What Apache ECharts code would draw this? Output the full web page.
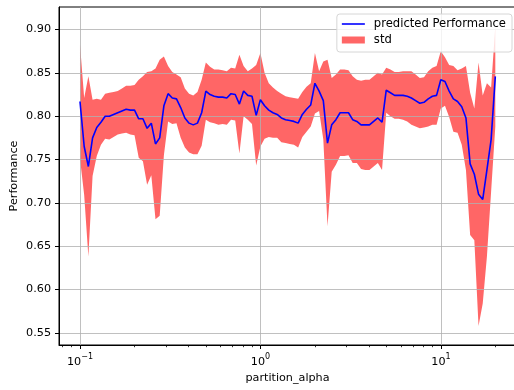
<!DOCTYPE html>
<html>
<head>
<meta charset="utf-8">
<script src="https://cdn.jsdelivr.net/npm/echarts@6/dist/echarts.min.js"></script>
<style>
  html, body { margin: 0; padding: 0; background: #ffffff; }
  #chart { width: 514px; height: 390px; }
</style>
</head>
<body>
<div id="chart"></div>
<script>
// partition_alpha sampling grid: 100 log-spaced values from 0.1 to 20
const alphaCount = 100;
const alphaStart = 0.1;
const alphaEnd = 20;
const partitionAlpha = Array.from({ length: alphaCount }, (_, i) =>
  alphaStart * Math.pow(alphaEnd / alphaStart, i / (alphaCount - 1)));

// mean predicted performance at each alpha
const predicted = [
  0.817, 0.765, 0.742, 0.775, 0.787, 0.793, 0.800, 0.800, 0.802, 0.804,
  0.806, 0.808, 0.807, 0.807, 0.797, 0.797, 0.786, 0.792, 0.768, 0.775,
  0.812, 0.826, 0.821, 0.820, 0.810, 0.798, 0.792, 0.790, 0.792, 0.804,
  0.829, 0.825, 0.823, 0.822, 0.822, 0.821, 0.826, 0.825, 0.814, 0.829,
  0.824, 0.823, 0.801, 0.819, 0.812, 0.807, 0.804, 0.802, 0.798, 0.796,
  0.795, 0.794, 0.792, 0.802, 0.808, 0.813, 0.838, 0.829, 0.818, 0.769,
  0.790, 0.796, 0.804, 0.804, 0.804, 0.796, 0.794, 0.790, 0.790, 0.790,
  0.794, 0.798, 0.793, 0.830, 0.827, 0.824, 0.824, 0.824, 0.823, 0.821,
  0.818, 0.815, 0.816, 0.820, 0.823, 0.824, 0.842, 0.840, 0.829, 0.820,
  0.817, 0.811, 0.798, 0.745, 0.733, 0.710, 0.704, 0.738, 0.773, 0.846
];

// standard deviation of the prediction at each alpha
const stdDev = [
  0.066, 0.056, 0.104, 0.044, 0.033, 0.026, 0.026, 0.027, 0.026, 0.025,
  0.026, 0.027, 0.028, 0.029, 0.045, 0.049, 0.065, 0.060, 0.087, 0.090,
  0.057, 0.032, 0.030, 0.028, 0.035, 0.034, 0.034, 0.034, 0.036, 0.038,
  0.033, 0.032, 0.031, 0.032, 0.031, 0.031, 0.030, 0.030, 0.057, 0.029,
  0.028, 0.032, 0.058, 0.054, 0.038, 0.031, 0.029, 0.027, 0.028, 0.027,
  0.027, 0.027, 0.028, 0.026, 0.026, 0.025, 0.035, 0.023, 0.045, 0.096,
  0.054, 0.052, 0.050, 0.050, 0.049, 0.050, 0.048, 0.051, 0.052, 0.052,
  0.052, 0.052, 0.055, 0.026, 0.027, 0.027, 0.027, 0.028, 0.029, 0.031,
  0.030, 0.029, 0.029, 0.032, 0.033, 0.034, 0.033, 0.028, 0.030, 0.038,
  0.036, 0.044, 0.060, 0.082, 0.076, 0.152, 0.120, 0.100, 0.060, 0.058
];

const yTicks = [0.55, 0.60, 0.65, 0.70, 0.75, 0.80, 0.85, 0.90];
const xMajorTicks = [0.1, 1, 10];
const xMinorTicks = [0.08, 0.09, 0.2, 0.3, 0.4, 0.5, 0.6, 0.7, 0.8, 0.9,
                     2, 3, 4, 5, 6, 7, 8, 9, 20];

const FONT = 'DejaVu Sans';
const FS = 11.2;
const X_MIN = 0.07651, X_MAX = 26.04;
const Y_MIN = 0.536, Y_MAX = 0.926;

// [alpha, mean - std, mean + std]
const bandRows = partitionAlpha.map((a, i) => [a, predicted[i] - stdDev[i], predicted[i] + stdDev[i]]);
const meanPts = partitionAlpha.map((a, i) => [a, predicted[i]]);

// Fills the whole mean ± std region as one polygon
function renderBand(params, api) {
  if (params.dataIndex !== 0) return null;
  const upper = bandRows.map(r => api.coord([r[0], r[2]]));
  const lower = bandRows.map(r => api.coord([r[0], r[1]])).reverse();
  return {
    type: 'polygon',
    shape: { points: upper.concat(lower) },
    style: { fill: '#ff6666', stroke: null }
  };
}

const chart = echarts.init(document.getElementById('chart'), null, { renderer: 'canvas' });

chart.setOption({
  animation: false,
  backgroundColor: '#ffffff',
  textStyle: { fontFamily: FONT },
  grid: {
    left: 59, top: 7, width: 457, height: 338,
    outerBoundsMode: 'none',
    containLabel: false,
    show: true, borderColor: '#000000', borderWidth: 1, backgroundColor: 'transparent'
  },
  legend: {
    data: [
      { name: 'predicted Performance', icon: 'path://M0,0H23V1.6H0Z', itemStyle: { color: '#0000ff' } },
      { name: 'std', icon: 'rect', itemStyle: { color: '#ff6666' } }
    ],
    orient: 'vertical',
    right: 2,
    top: 14,
    itemWidth: 23,
    itemHeight: 7,
    itemGap: 4,
    padding: [4, 6, 6, 5],
    backgroundColor: 'rgba(255,255,255,0.8)',
    borderColor: '#d6d6d6',
    borderWidth: 1,
    borderRadius: 3,
    z: 10,
    textStyle: { fontFamily: FONT, fontSize: 11.6, color: '#000000', padding: [0, 0, 0, 4] }
  },
  xAxis: [
    {
      type: 'log', logBase: 10, min: X_MIN, max: X_MAX,
      position: 'bottom',
      name: 'partition_alpha', nameLocation: 'middle', nameGap: 27,
      nameTextStyle: { fontFamily: FONT, fontSize: FS, color: '#000000' },
      axisLine: { show: true, onZero: false, lineStyle: { color: '#000000', width: 1 } },
      axisTick: { show: true, length: 4, customValues: xMajorTicks, lineStyle: { color: '#000000', width: 1 } },
      axisLabel: {
        customValues: xMajorTicks,
        margin: 8,
        formatter: function (v) {
          const e = Math.round(Math.log10(v));
          return '{b|10}{s|' + (e < 0 ? '\u2212' + (-e) : String(e)) + '}';
        },
        rich: {
          b: { fontFamily: FONT, fontSize: FS, color: '#000000', lineHeight: 15, verticalAlign: 'bottom' },
          s: { fontFamily: FONT, fontSize: 8, color: '#000000', verticalAlign: 'top' }
        }
      },
      splitLine: { show: true, lineStyle: { color: '#b0b0b0', width: 0.8 } }
    },
    {
      type: 'log', logBase: 10, min: X_MIN, max: X_MAX,
      position: 'bottom',
      axisLine: { show: false },
      axisTick: { show: true, length: 2.2, customValues: xMinorTicks, lineStyle: { color: '#000000', width: 0.8 } },
      axisLabel: { show: false },
      splitLine: { show: false }
    }
  ],
  yAxis: {
    type: 'value', min: Y_MIN, max: Y_MAX,
    name: 'Performance', nameLocation: 'middle', nameGap: 39,
    nameMoveOverlap: false,
    nameTextStyle: { fontFamily: FONT, fontSize: FS, color: '#000000' },
    axisLine: { show: true, lineStyle: { color: '#000000', width: 1 } },
    axisTick: { show: true, length: 4, customValues: yTicks, lineStyle: { color: '#000000', width: 1 } },
    axisLabel: {
      customValues: yTicks, margin: 8,
      fontFamily: FONT, fontSize: FS, color: '#000000',
      formatter: function (v) { return v.toFixed(2); }
    },
    splitLine: { show: true, lineStyle: { color: '#b0b0b0', width: 0.8 } }
  },
  series: [
    {
      name: 'std', type: 'custom', data: bandRows,
      encode: { x: 0, y: [1, 2] },
      renderItem: renderBand,
      itemStyle: { color: '#ff6666' },
      clip: true, silent: true, z: -1
    },
    {
      name: 'predicted Performance', type: 'line', data: meanPts,
      color: '#0000ff',
      symbol: 'none', z: 5,
      lineStyle: { color: '#0000ff', width: 1.6 }
    }
  ]
});
</script>
</body>
</html>
